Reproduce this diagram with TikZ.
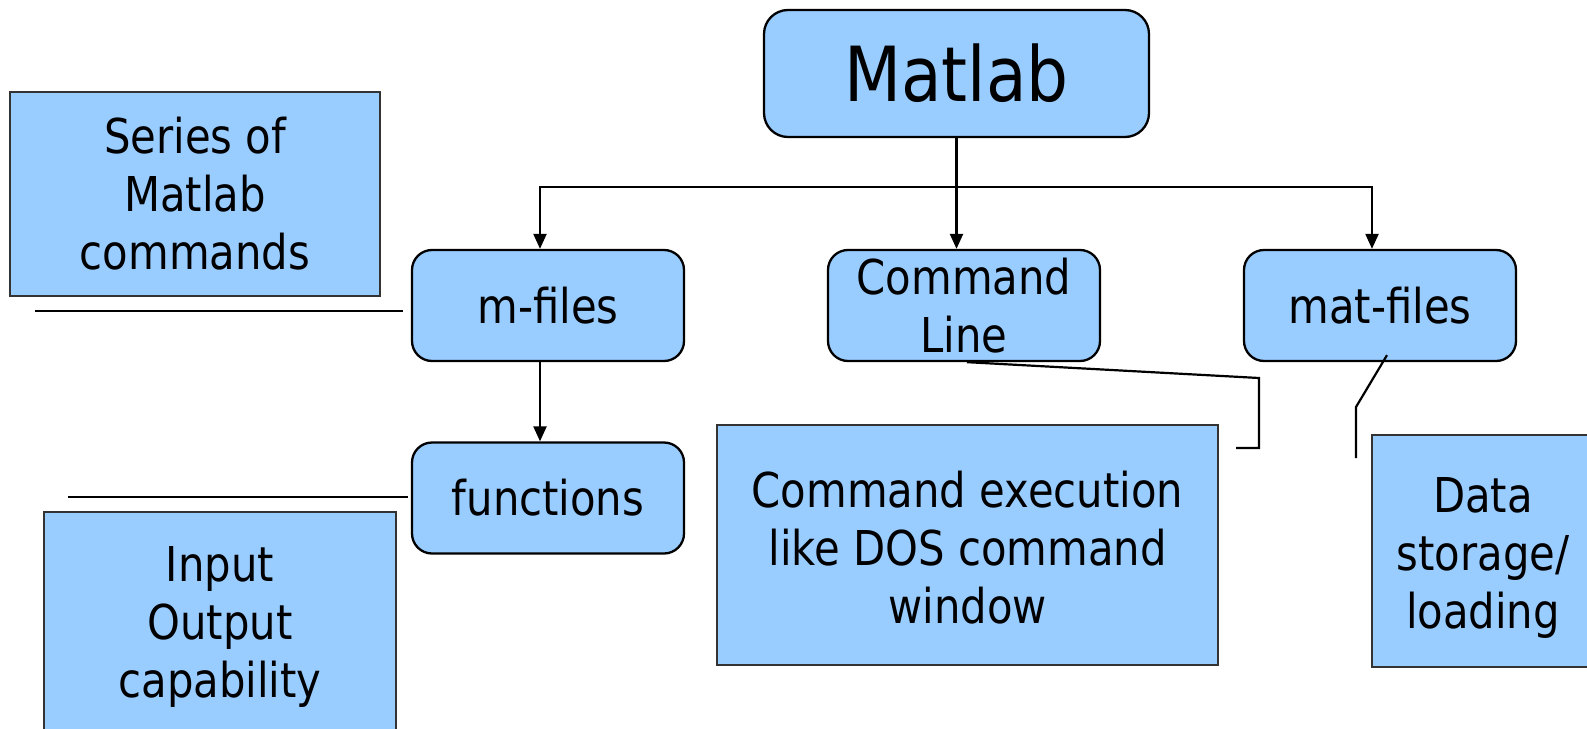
\documentclass[tikz,border=0pt]{standalone}
\usepackage{fontspec}
\setmainfont{DejaVu Sans}[FakeStretch=0.87]
\usetikzlibrary{arrows.meta}
\definecolor{boxblue}{HTML}{99CCFF}
\begin{document}
\begin{tikzpicture}[x=1pt,y=-1pt,
  rbox/.style={draw=black, line width=2.3pt, fill=boxblue, rounded corners=20pt, inner sep=0pt, align=center, minimum width=272pt, minimum height=111pt, font=\fontsize{48}{58}\selectfont},
  sbox/.style={draw=black!80, line width=1.8pt, fill=boxblue, inner sep=0pt, align=center, font=\fontsize{48}{58}\selectfont},
  arr/.style={line width=2.2pt, -{Triangle[length=15pt,width=13pt]}},
  ln/.style={line width=2.2pt}]
\fill[white] (0,0) rectangle (1587,728);
\useasboundingbox (0,0) rectangle (1587,728);
\clip (0,0) rectangle (1587,728);
% main nodes
\node[rbox, minimum width=385pt, minimum height=127pt, rounded corners=24pt, font=\fontsize{76}{90}\selectfont] (matlab) at (956.5,73.5) {Matlab};
\node[rbox] (mfiles) at (548,305.5) {m-files};
\node[rbox] (cmdline) at (964,305.5) {Command\\Line};
\node[rbox] (matfiles) at (1380,305.5) {mat-files};
\node[rbox] (functions) at (548,498) {functions};
% description boxes
\node[sbox, minimum width=370pt, minimum height=204pt] (series) at (195,194) {Series of\\Matlab\\commands};
\node[sbox, minimum width=352pt, minimum height=226pt] (inout) at (220,625) {\parbox{340pt}{\centering\vspace*{4pt}Input\\Output\\capability}};
\node[sbox, minimum width=501pt, minimum height=240pt] (cmdexec) at (967.5,545) {\parbox{480pt}{\centering\vspace*{6pt}Command execution\\like DOS command\\window}};
\node[sbox, minimum width=222pt, minimum height=232pt] (data) at (1483,551) {\parbox{210pt}{\centering\vspace*{14pt}Data\\storage/\\loading}};
% tree connectors
\path (matlab.south) ++(0,49) coordinate (hub);
\draw[ln] (matlab.south) -- (hub);
\draw[arr] (hub) -- (hub |- cmdline.north);
\draw[arr] (hub) -| ([xshift=-8pt]mfiles.north);
\draw[arr] (hub) -| ([xshift=-8pt]matfiles.north);
\draw[arr] ([xshift=-8pt]mfiles.south) -- ([xshift=-8pt]functions.north);
% callout lines
\coordinate (s1) at (35,311);
\coordinate (s2) at (403,311);
\draw[ln] (s1) -- (s2);
\coordinate (f1) at (68,497);
\coordinate (f2) at (408,497);
\draw[ln] (f1) -- (f2);
\coordinate (k1) at (1259,378);
\coordinate (k2) at (1259,448);
\coordinate (k3) at (1236,448);
\draw[ln] ([xshift=3pt]cmdline.south) -- (k1) -- (k2) -- (k3);
\coordinate (m1) at (1356,407);
\coordinate (m2) at (1356,458);
\draw[ln] ([xshift=7pt,yshift=7pt]matfiles.south) -- (m1) -- (m2);
\end{tikzpicture}
\end{document}
